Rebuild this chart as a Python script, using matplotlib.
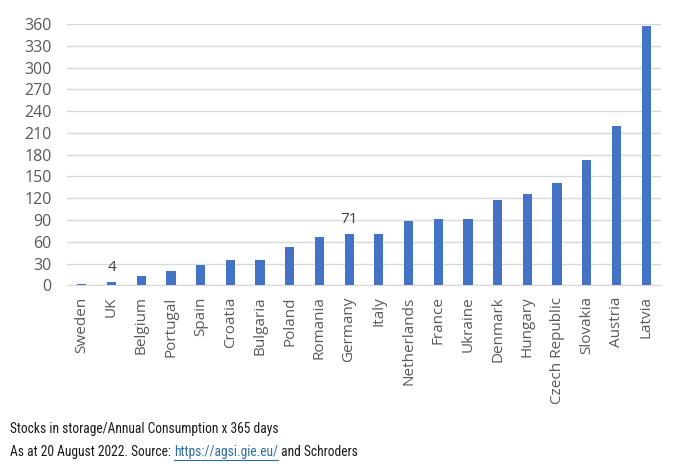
import matplotlib
matplotlib.use("Agg")
import matplotlib.pyplot as plt
from matplotlib import font_manager

countries = ["Sweden", "UK", "Belgium", "Portugal", "Spain", "Croatia", "Bulgaria",
             "Poland", "Romania", "Germany", "Italy", "Netherlands", "France", "Ukraine",
             "Denmark", "Hungary", "Czech Republic", "Slovakia", "Austria", "Latvia"]
days = [2, 4, 13, 20, 28, 35, 35, 53, 67, 71, 71, 88, 91, 91, 117, 126, 141, 173, 220, 357]
labelled = {"UK": "4", "Germany": "71"}
yticks = list(range(0, 361, 30))
note1 = "Stocks in storage/Annual Consumption x 365 days"
note2a = "As at 20 August 2022. Source: "
note2b = "https://agsi.gie.eu/"
note2c = " and Schroders"

fig = plt.figure(figsize=(6.8, 4.69), dpi=100)
ax = fig.add_axes([0.0985, 0.3917, 0.8735, 0.5571])

x = list(range(len(countries)))
ax.bar(x, days, width=0.31, color="#4472C4", zorder=3)
ax.set_xlim(-0.5, len(countries) - 0.5)
ax.set_ylim(0, 360)
ax.set_yticks(yticks)
ax.set_yticklabels([str(t) for t in yticks])
ax.set_xticks(x)
ax.set_xticklabels(countries, rotation=90)
ax.grid(axis="y", color="#d9d9d9", linewidth=1.0, zorder=0)
for s in ["top", "right", "left"]:
    ax.spines[s].set_visible(False)
ax.spines["bottom"].set_color("#d9d9d9")
ax.tick_params(axis="y", length=0, labelsize=11.5, labelcolor="#595959", pad=11)
ax.tick_params(axis="x", length=0, labelsize=11, labelcolor="#595959", pad=8)
for lab in ax.get_xticklabels() + ax.get_yticklabels():
    lab.set_fontfamily("Open Sans")

for i, c in enumerate(countries):
    if c in labelled:
        ax.annotate(labelled[c], (i, days[i]), xytext=(0, 5), textcoords="offset points",
                    ha="center", va="bottom", fontsize=11, color="#404040",
                    family="Open Sans")

available = {f.name for f in font_manager.fontManager.ttflist}
foot_font = "Lato"
for cand in ["Liberation Sans Narrow", "Roboto Condensed", "Open Sans Condensed"]:
    if cand in available:
        foot_font = cand
        break

fig.canvas.draw()
r = fig.canvas.get_renderer()
# size footer so the first line spans the same width as the reference
probe = fig.text(0, 0, note1, fontsize=10, family=foot_font)
w = probe.get_window_extent(r).width
probe.remove()
fs = 10 * 268 / w

fig.text(10 / 680, 1 - 429 / 469, note1,
         fontsize=fs, family=foot_font, color="#1a1a1a", va="center")
t1 = fig.text(10 / 680, 1 - 452 / 469, note2a,
              fontsize=fs, family=foot_font, color="#1a1a1a", va="center")
fig.canvas.draw()
bb = t1.get_window_extent(r)
t2 = fig.text(bb.x1 / 680, 1 - 452 / 469, note2b,
              fontsize=fs, family=foot_font, color="#2e6da4", va="center")
fig.canvas.draw()
bb2 = t2.get_window_extent(r)
fig.add_artist(plt.Line2D([bb2.x0 / 680, bb2.x1 / 680], [(bb2.y0 - 0.5) / 469] * 2,
                          color="#2e6da4", linewidth=0.8))
fig.text(bb2.x1 / 680, 1 - 452 / 469, note2c,
         fontsize=fs, family=foot_font, color="#1a1a1a", va="center")

fig.savefig("out.png", dpi=100, facecolor="white")
